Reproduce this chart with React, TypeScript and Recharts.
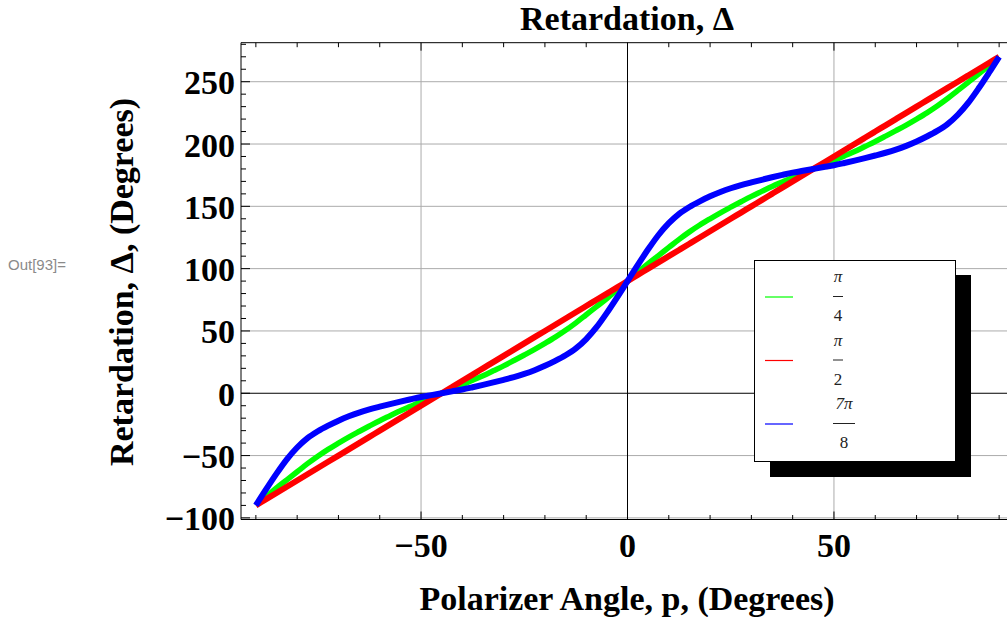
import React from "react";
import { LineChart, Line, XAxis, YAxis, ReferenceLine, Legend } from "recharts";

// polarizer angle p (degrees)
const angles = [
  -90, -87.5, -85, -82.5, -80, -77.5, -75, -72.5, -70, -67.5, -65, -62.5, -60, -57.5, -55, -52.5, -50, -47.5,
  -45, -42.5, -40, -37.5, -35, -32.5, -30, -27.5, -25, -22.5, -20, -17.5, -15, -12.5, -10, -7.5, -5, -2.5,
  0, 2.5, 5, 7.5, 10, 12.5, 15, 17.5, 20, 22.5, 25, 27.5, 30, 32.5, 35, 37.5, 40, 42.5,
  45, 47.5, 50, 52.5, 55, 57.5, 60, 62.5, 65, 67.5, 70, 72.5, 75, 77.5, 80, 82.5, 85, 87.5, 90,
];

// retardation, pi/4 curve (green)
const greenRet = [
  -90, -83, -76, -69.5, -63, -56.5, -50.5, -45, -40, -35.2, -30.7, -26.3, -22, -18, -14, -10.4, -6.8, -3.4,
  0, 3.4, 6.8, 10.4, 14, 18, 22, 26.3, 30.7, 35.2, 40, 45, 50.5, 56.5, 63, 69.5, 76, 83,
  90, 97, 104, 110.5, 117, 123.5, 129.5, 135, 140, 144.8, 149.3, 153.7, 158, 162, 166, 169.6, 173.2, 176.6,
  180, 183.4, 186.8, 190.4, 194, 198, 202, 206.3, 210.7, 215.2, 220, 225, 230.5, 236.5, 243, 249.5, 256, 263, 270,
];

// retardation, pi/2 curve (red)
const redRet = [
  -90, -85, -80, -75, -70, -65, -60, -55, -50, -45, -40, -35, -30, -25, -20, -15, -10, -5,
  0, 5, 10, 15, 20, 25, 30, 35, 40, 45, 50, 55, 60, 65, 70, 75, 80, 85,
  90, 95, 100, 105, 110, 115, 120, 125, 130, 135, 140, 145, 150, 155, 160, 165, 170, 175,
  180, 185, 190, 195, 200, 205, 210, 215, 220, 225, 230, 235, 240, 245, 250, 255, 260, 265, 270,
];

// retardation, 7pi/8 curve (blue)
const blueRet = [
  -90, -77, -64.5, -53, -43.5, -36, -30.5, -26, -22, -18.5, -15.5, -13, -10.8, -8.7, -6.7, -4.8, -3, -1.5,
  0, 1.5, 3, 4.8, 6.7, 8.7, 10.8, 13, 15.5, 18.5, 22, 26, 30.5, 36, 43.5, 53, 64.5, 77,
  90, 103, 115.5, 127, 136.5, 144, 149.5, 154, 158, 161.5, 164.5, 167, 169.2, 171.3, 173.3, 175.2, 177, 178.5,
  180, 181.5, 183, 184.8, 186.7, 188.7, 190.8, 193, 195.5, 198.5, 202, 206, 210.5, 216, 223.5, 233, 244.5, 257, 270,
];

const xTicks = [-90, -80, -70, -60, -50, -40, -30, -20, -10, 0, 10, 20, 30, 40, 50, 60, 70, 80, 90];
const xLabelTicks = [-50, 0, 50];
const yTicks = [
  -100, -90, -80, -70, -60, -50, -40, -30, -20, -10, 0, 10, 20, 30, 40, 50, 60, 70, 80, 90, 100,
  110, 120, 130, 140, 150, 160, 170, 180, 190, 200, 210, 220, 230, 240, 250, 260, 270, 280,
];
const yLabelTicks = [-100, -50, 0, 50, 100, 150, 200, 250];
const xGrid = [-50, 50];
const yGrid = [-100, -50, 50, 100, 150, 200, 250];

// legend rows, top to bottom
const legendKeys = ["green", "red", "blue"];
const legendNum = ["π", "π", "7π"];
const legendDen = ["4", "2", "8"];

const data = angles.map((p, i) => ({ p, green: greenRet[i], red: redRet[i], blue: blueRet[i] }));

const serif = "'Liberation Serif', 'Times New Roman', serif";
const fmt = (v: number) => (v < 0 ? "\u2212" + Math.abs(v) : String(v));

const renderBottomTick = (props: any) => {
  const { x, y, payload } = props;
  const major = xLabelTicks.includes(payload.value);
  return (
    <g>
      <line x1={x} y1={y} x2={x} y2={y - (major ? 8 : 4.5)} stroke="#000" />
      {major && (
        <text x={x} y={y + 37} textAnchor="middle" fontFamily={serif} fontWeight="bold" fontSize={34} fill="#000">
          {fmt(payload.value)}
        </text>
      )}
    </g>
  );
};

const renderTopTick = (props: any) => {
  const { x, y, payload } = props;
  const major = xLabelTicks.includes(payload.value);
  return <line x1={x} y1={y} x2={x} y2={y + (major ? 8 : 4.5)} stroke="#000" />;
};

const renderLeftTick = (props: any) => {
  const { x, y, payload } = props;
  const major = yLabelTicks.includes(payload.value);
  return (
    <g>
      <line x1={x} y1={y} x2={x + (major ? 9 : 5)} y2={y} stroke="#000" />
      {major && (
        <text x={x - 6} y={y + 12.5} textAnchor="end" fontFamily={serif} fontWeight="bold" fontSize={34} fill="#000">
          {fmt(payload.value)}
        </text>
      )}
    </g>
  );
};

const renderLegend = (props: any) => {
  const items = props.payload || [];
  return (
    <svg width={1014} height={617} style={{ position: "absolute", left: 0, top: 0 }}>
      <rect x={770} y={275} width={201} height={202} fill="#000" />
      <rect x={754.5} y={260.5} width={201} height={201} fill="#fff" stroke="#000" />
      {legendKeys.map((key, i) => {
        const item = items.find((it: any) => it.dataKey === key);
        const cy = 297 + i * 63.5;
        const w = legendNum[i].length > 1 ? 22 : 10;
        return (
          <g key={key}>
            <line x1={765} y1={cy} x2={793} y2={cy} stroke={item ? item.color : "#000"} strokeWidth={1.2} />
            <text x={833 + w / 2} y={cy - 15} textAnchor="middle" fontFamily={serif} fontStyle="italic" fontSize={17} fill="#222">
              {legendNum[i]}
            </text>
            <line x1={833} y1={cy - 0.5} x2={833 + w} y2={cy - 0.5} stroke="#222" strokeWidth={1} />
            <text x={833 + w / 2} y={cy + 24} textAnchor="middle" fontFamily={serif} fontSize={17} fill="#222">
              {legendDen[i]}
            </text>
          </g>
        );
      })}
    </svg>
  );
};

export default function App() {
  return (
    <div style={{ position: "absolute", left: 0, top: 0, width: 1007, height: 617, overflow: "hidden", background: "#fff" }}>
      <LineChart width={1014} height={617} data={data} margin={{ top: 32.7, right: 0, bottom: 67.5, left: 181 }}>
        <XAxis
          dataKey="p"
          type="number"
          domain={[-93.6, 93.6]}
          ticks={xTicks}
          interval={0}
          height={30}
          tickSize={0}
          tickMargin={0}
          tickLine={false}
          axisLine={{ stroke: "#000" }}
          tick={renderBottomTick}
          allowDataOverflow
        />
        <XAxis
          xAxisId="top"
          orientation="top"
          dataKey="p"
          type="number"
          domain={[-93.6, 93.6]}
          ticks={xTicks}
          interval={0}
          height={10}
          tickSize={0}
          tickMargin={0}
          tickLine={false}
          axisLine={{ stroke: "#000" }}
          tick={renderTopTick}
          allowDataOverflow
        />
        <YAxis
          type="number"
          domain={[-101.3, 281.3]}
          ticks={yTicks}
          interval={0}
          width={60}
          tickSize={0}
          tickMargin={0}
          tickLine={false}
          axisLine={{ stroke: "#000" }}
          tick={renderLeftTick}
          allowDataOverflow
        />
        {yGrid.map((v) => (
          <ReferenceLine key={"h" + v} y={v} stroke="#ababab" strokeWidth={1} />
        ))}
        {xGrid.map((v) => (
          <ReferenceLine key={"v" + v} x={v} stroke="#ababab" strokeWidth={1} />
        ))}
        <ReferenceLine y={0} stroke="#000" strokeWidth={1} />
        <ReferenceLine x={0} stroke="#000" strokeWidth={1} />
        <Line dataKey="green" name="π/4" type="monotone" stroke="#00ff00" strokeWidth={5.5} dot={false} isAnimationActive={false} />
        <Line dataKey="red" name="π/2" type="monotone" stroke="#ff0000" strokeWidth={6} dot={false} isAnimationActive={false} />
        <Line dataKey="blue" name="7π/8" type="monotone" stroke="#0000ff" strokeWidth={6} dot={false} isAnimationActive={false} />
        <Legend
          layout="vertical"
          align="center"
          verticalAlign="middle"
          content={renderLegend}
          wrapperStyle={{ left: 0, top: 0, width: 1014, height: 617, pointerEvents: "none" }}
        />
      </LineChart>
      <svg width={1007} height={617} style={{ position: "absolute", left: 0, top: 0, pointerEvents: "none" }}>
        <text x={627} y={30} textAnchor="middle" fontFamily={serif} fontWeight="bold" fontSize={34}>
          Retardation, Δ
        </text>
        <text x={627} y={610} textAnchor="middle" fontFamily={serif} fontWeight="bold" fontSize={34}>
          Polarizer Angle, p, (Degrees)
        </text>
        <text x={133} y={282} transform="rotate(-90, 133, 282)" textAnchor="middle" fontFamily={serif} fontWeight="bold" fontSize={34}>
          Retardation, Δ, (Degrees)
        </text>
      </svg>
      <div style={{ position: "absolute", left: 8, top: 256, fontFamily: "'Liberation Sans', Arial, sans-serif", fontSize: 15, color: "#8a8a8a" }}>
        Out[93]=
      </div>
    </div>
  );
}
